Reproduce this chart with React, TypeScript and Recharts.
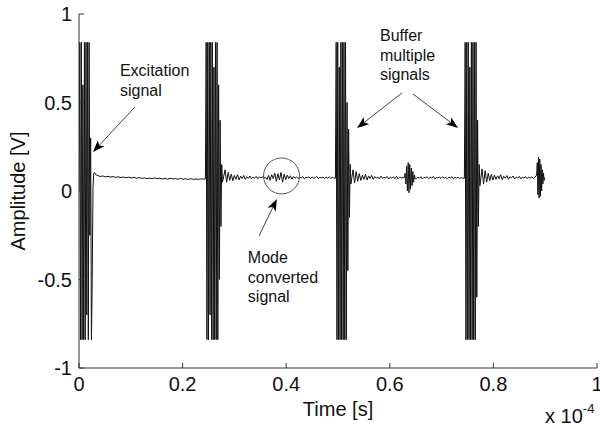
import { LineChart, Line, XAxis, YAxis, ReferenceLine, ReferenceDot, Label } from 'recharts';

const FONT = '"Liberation Sans", Arial, Helvetica, sans-serif';

// x in units of 1e-4 s, y in volts. Each piece is a run of samples: start, step, values
type Piece = { t0: number; dt: number; v: number[] };

const excitation: Piece = {
  t0: 0, dt: 0.0015,
  v: [0, 0.84, -0.84, 0.84, -0.84, 0.6, -0.84, 0.84, -0.84, 0.84, -0.7, 0.84, -0.84, 0.84, -0.25, 0.3, -0.84, -0.5,
    0.02, 0.1, 0.105, 0.095, 0.09],
};
const quiet1: Piece = {
  t0: 0.036, dt: 0.005,
  v: [0.088, 0.082, 0.085, 0.08, 0.083, 0.079, 0.081, 0.077, 0.08, 0.076, 0.079, 0.075, 0.078, 0.074,
    0.077, 0.072, 0.076, 0.071, 0.074, 0.07, 0.073, 0.069, 0.074, 0.07, 0.072, 0.068, 0.071, 0.067,
    0.072, 0.068, 0.07, 0.066, 0.071, 0.067, 0.069, 0.065, 0.07, 0.066, 0.068, 0.065, 0.069, 0.067],
};
const echo1: Piece = {
  t0: 0.244, dt: 0.0015,
  v: [0.068, 0.84, -0.84, 0.84, -0.84, 0.84, -0.7, 0.84, -0.84, 0.84, -0.84, 0.7, -0.84, 0.84, -0.84, 0.84, -0.84,
    0.6, -0.5, 0.4, -0.2, 0.15, 0.05],
};
const noise1: Piece = {
  t0: 0.282, dt: 0.003,
  v: [0.12, 0.05, 0.105, 0.06, 0.095, 0.058, 0.088, 0.066, 0.092, 0.063, 0.084, 0.07, 0.088, 0.066, 0.081, 0.072, 0.085,
    0.069, 0.079, 0.073, 0.082, 0.07, 0.078, 0.074, 0.08, 0.072,
    0.078, 0.065, 0.088, 0.06, 0.092, 0.07, 0.1, 0.055, 0.098, 0.062, 0.105, 0.05, 0.095, 0.064, 0.09, 0.07, 0.086,
    0.066, 0.082, 0.072, 0.079,
    0.071, 0.078, 0.074, 0.081, 0.069, 0.077, 0.075, 0.08, 0.07, 0.079, 0.073, 0.076, 0.082, 0.07, 0.077, 0.074,
    0.079, 0.071, 0.078, 0.073, 0.08, 0.072, 0.076, 0.074],
};
const echo2: Piece = {
  t0: 0.495, dt: 0.0015,
  v: [0.072, 0.84, -0.84, 0.84, -0.84, 0.7, -0.84, 0.84, -0.84, 0.84, -0.84, 0.84, -0.84, 0.84, -0.84, 0.5, -0.45,
    0.35, -0.15, 0.15, 0.04],
};
const noise2: Piece = {
  t0: 0.529, dt: 0.003,
  v: [0.12, 0.045, 0.11, 0.055, 0.098, 0.06, 0.09, 0.066, 0.094, 0.062, 0.085, 0.07, 0.088, 0.066, 0.082, 0.073,
    0.079, 0.069, 0.084, 0.071, 0.077, 0.074, 0.081, 0.068, 0.079, 0.072, 0.08, 0.07, 0.083, 0.069, 0.078, 0.073, 0.076],
};
const mode1: Piece = {
  t0: 0.628, dt: 0.0015,
  v: [0.075, 0.1, 0.04, 0.14, 0.0, 0.16, -0.01, 0.15, 0.01, 0.13, 0.03, 0.11, 0.05, 0.09, 0.07],
};
const noise3: Piece = {
  t0: 0.651, dt: 0.003,
  v: [0.07, 0.079, 0.072, 0.081, 0.068, 0.077, 0.074, 0.08, 0.07, 0.078, 0.073, 0.082, 0.069, 0.076, 0.074, 0.079,
    0.071, 0.08, 0.072, 0.077, 0.07, 0.078, 0.074, 0.081, 0.069, 0.077, 0.073, 0.079, 0.07, 0.076, 0.072],
};
const echo3: Piece = {
  t0: 0.744, dt: 0.0015,
  v: [0.072, 0.84, -0.84, 0.84, -0.84, 0.84, -0.84, 0.7, -0.84, 0.84, -0.84, 0.84, -0.84, 0.84, -0.84, 0.84, -0.6,
    0.4, -0.2, 0.15, 0.03],
};
const noise4: Piece = {
  t0: 0.778, dt: 0.003,
  v: [0.125, 0.04, 0.115, 0.05, 0.1, 0.058, 0.094, 0.062, 0.09, 0.066, 0.086, 0.07, 0.092, 0.064, 0.083, 0.072,
    0.087, 0.066, 0.08, 0.074, 0.085, 0.068, 0.079, 0.073, 0.083, 0.069, 0.078, 0.074, 0.081, 0.07, 0.079, 0.072,
    0.08, 0.071, 0.077],
};
const mode2: Piece = {
  t0: 0.8835, dt: 0.0012,
  v: [0.09, 0.16, -0.02, 0.19, -0.04, 0.18, -0.03, 0.15, 0.0, 0.12, 0.04, 0.1, 0.06, 0.075],
};

const pieces = [excitation, quiet1, echo1, noise1, echo2, noise2, mode1, noise3, echo3, noise4, mode2];

const xTicks = [0, 0.2, 0.4, 0.6, 0.8, 1];
const yTicks = [-1, -0.5, 0, 0.5, 1];

// annotation anchors, in data units
const excitationText = { x: 0.079, y: 0.647 };
const modeText = { x: 0.326, y: -0.407 };
const bufferText = { x: 0.581, y: 0.847 };
const modeCircle = { x: 0.391, y: 0.085 };
const arrows = [
  [{ x: 0.108, y: 0.475 }, { x: 0.027, y: 0.22 }],
  [{ x: 0.3475, y: -0.254 }, { x: 0.382, y: -0.045 }],
  [{ x: 0.6236, y: 0.554 }, { x: 0.5367, y: 0.356 }],
  [{ x: 0.6448, y: 0.548 }, { x: 0.7317, y: 0.356 }],
];

const data = pieces.flatMap((p) => p.v.map((v, i) => ({ t: +(p.t0 + i * p.dt).toFixed(5), v })));

const AX = '#333';

const LeftTick = ({ x, y, payload }: any) => (
  <g>
    <line x1={x} y1={y} x2={x + 5} y2={y} stroke={AX} />
    <text x={x - 7} y={y + 7} textAnchor="end" fontSize={20} fontFamily={FONT} fill="#111">{payload.value}</text>
  </g>
);
const RightTick = ({ x, y }: any) => <line x1={x - 5} y1={y} x2={x} y2={y} stroke={AX} />;
const BottomTick = ({ x, y, payload }: any) => (
  <g>
    <line x1={x} y1={y} x2={x} y2={y - 5} stroke={AX} />
    <text x={x} y={y + 23} textAnchor="middle" fontSize={20} fontFamily={FONT} fill="#111">{payload.value}</text>
  </g>
);
const TopTick = ({ x, y }: any) => <line x1={x} y1={y} x2={x} y2={y + 5} stroke={AX} />;

const Arrow = ({ x1, y1, x2, y2 }: any) => {
  const dx = x2 - x1;
  const dy = y2 - y1;
  const len = Math.hypot(dx, dy) || 1;
  const ux = dx / len;
  const uy = dy / len;
  const hl = 12;
  const hw = 4.5;
  const bx = x2 - ux * hl;
  const by = y2 - uy * hl;
  const nx = x2 - ux * hl * 0.75;
  const ny = y2 - uy * hl * 0.75;
  const pts = [
    [x2, y2],
    [bx - uy * hw, by + ux * hw],
    [nx, ny],
    [bx + uy * hw, by - ux * hw],
  ].map((p) => p.join(',')).join(' ');
  return (
    <g>
      <line x1={x1} y1={y1} x2={nx} y2={ny} stroke="#444" strokeWidth={1} />
      <polygon points={pts} fill="#000" />
    </g>
  );
};

const multiText = (lines: string[]) => ({ cx, cy }: any) => (
  <text x={cx} y={cy} fontSize={16} fontFamily={FONT} fill="#111">
    {lines.map((l, i) => (
      <tspan key={l} x={cx} dy={i === 0 ? 0 : 19.5}>{l}</tspan>
    ))}
  </text>
);

const TimeLabel = (p: any) => {
  const vb = p.viewBox ?? { x: 79, y: 368, width: 518, height: 61 };
  return (
    <g fontFamily={FONT} fill="#111">
      <text x={vb.x + vb.width / 2} y={vb.y + 48} textAnchor="middle" fontSize={20}>Time [s]</text>
      <text x={vb.x + vb.width - 52} y={vb.y + 55} fontSize={20}>
        x 10<tspan fontSize={13} dy={-10}>-4</tspan>
      </text>
    </g>
  );
};

const AmpLabel = (p: any) => {
  const vb = p.viewBox ?? { x: 0, y: 14, width: 79, height: 354 };
  const cx = vb.x + 25;
  const cy = vb.y + vb.height / 2;
  return (
    <text x={cx} y={cy} transform={`rotate(-90, ${cx}, ${cy})`} textAnchor="middle" fontSize={20} fontFamily={FONT} fill="#111">
      Amplitude [V]
    </text>
  );
};

export default function App() {
  return (
    <div style={{ position: 'absolute', left: 0, top: 0, width: 600, height: 429, background: '#fff' }}>
      <LineChart width={600} height={429} data={data} margin={{ top: 14, right: 3, bottom: 0, left: 0 }}>
        <XAxis xAxisId="b" dataKey="t" type="number" domain={[0, 1]} ticks={xTicks} interval={0} allowDataOverflow
          height={61} tickSize={0} tickMargin={0} tickLine={false} tick={BottomTick} axisLine={{ stroke: AX }}>
          <Label content={TimeLabel} />
        </XAxis>
        <XAxis xAxisId="t" orientation="top" type="number" domain={[0, 1]} ticks={xTicks} interval={0} allowDataOverflow
          height={0} tickSize={0} tickMargin={0} tickLine={false} tick={TopTick} axisLine={{ stroke: AX }} />
        <YAxis yAxisId="l" type="number" domain={[-1, 1]} ticks={yTicks} interval={0} allowDataOverflow
          width={79} tickSize={0} tickMargin={0} tickLine={false} tick={LeftTick} axisLine={{ stroke: AX }}>
          <Label content={AmpLabel} />
        </YAxis>
        <YAxis yAxisId="r" orientation="right" type="number" domain={[-1, 1]} ticks={yTicks} interval={0} allowDataOverflow
          width={0} tickSize={0} tickMargin={0} tickLine={false} tick={RightTick} axisLine={{ stroke: AX }} />
        <Line xAxisId="b" yAxisId="l" dataKey="v" type="linear" dot={false} stroke="#111" strokeWidth={1}
          isAnimationActive={false} />
        {arrows.map((seg, i) => (
          <ReferenceLine key={i} xAxisId="b" yAxisId="l" segment={seg} shape={Arrow} />
        ))}
        <ReferenceDot xAxisId="b" yAxisId="l" x={modeCircle.x} y={modeCircle.y} r={18} fill="none" stroke="#555" strokeWidth={1} />
        <ReferenceDot xAxisId="b" yAxisId="l" x={excitationText.x} y={excitationText.y} r={1}
          shape={multiText(['Excitation', 'signal'])} />
        <ReferenceDot xAxisId="b" yAxisId="l" x={modeText.x} y={modeText.y} r={1}
          shape={multiText(['Mode', 'converted', 'signal'])} />
        <ReferenceDot xAxisId="b" yAxisId="l" x={bufferText.x} y={bufferText.y} r={1}
          shape={multiText(['Buffer', 'multiple', 'signals'])} />
      </LineChart>
    </div>
  );
}
